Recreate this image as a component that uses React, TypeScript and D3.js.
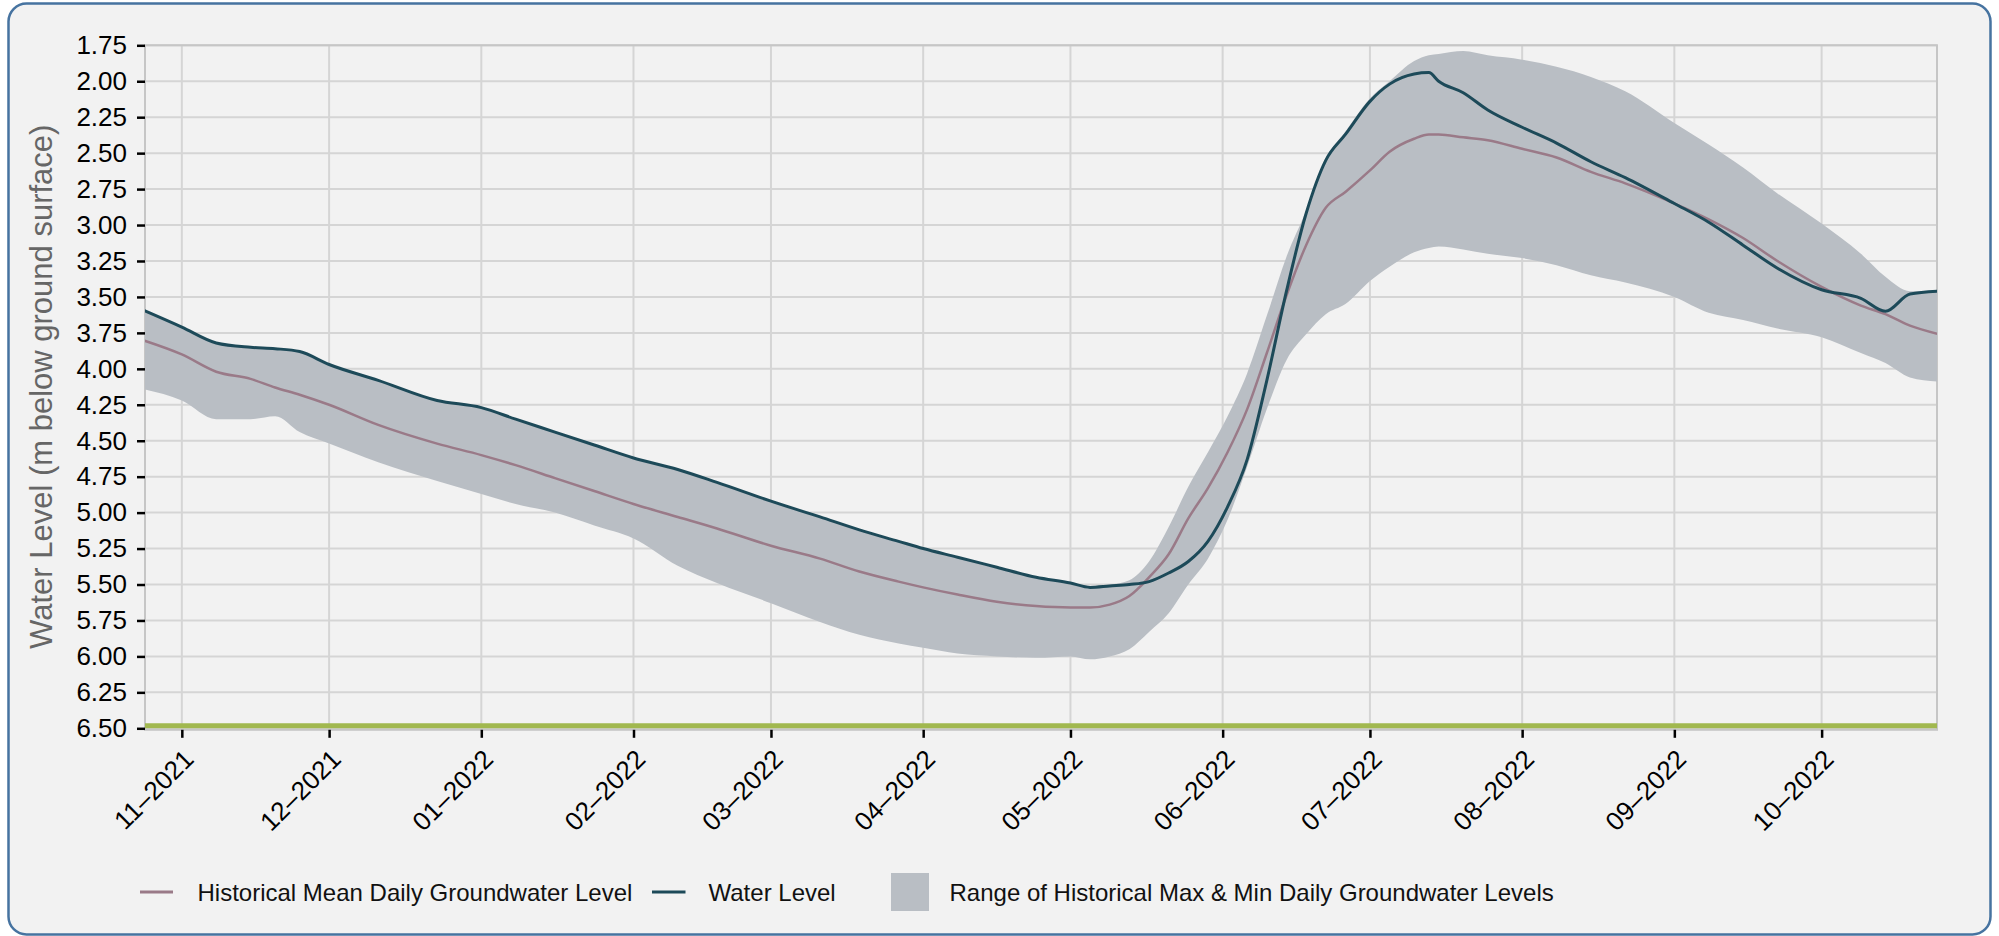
import React, { useEffect, useRef } from 'react';
import * as d3 from 'd3';

// values (m below ground surface)
const dates = [
  '2021-10-24', '2021-11-01', '2021-11-08', '2021-11-15', '2021-11-20', '2021-11-25',
  '2021-12-01', '2021-12-11', '2021-12-23', '2022-01-01', '2022-01-08', '2022-01-16',
  '2022-01-24', '2022-02-01', '2022-02-10', '2022-02-18', '2022-03-01', '2022-03-11',
  '2022-03-19', '2022-03-27', '2022-04-01', '2022-04-08', '2022-04-16', '2022-04-24',
  '2022-05-01', '2022-05-05', '2022-05-09', '2022-05-13', '2022-05-17', '2022-05-21',
  '2022-05-25', '2022-05-29', '2022-06-02', '2022-06-06', '2022-06-10', '2022-06-14',
  '2022-06-18', '2022-06-22', '2022-06-26', '2022-07-01', '2022-07-05', '2022-07-10',
  '2022-07-13', '2022-07-15', '2022-07-20', '2022-07-25', '2022-08-01', '2022-08-08',
  '2022-08-15', '2022-08-22', '2022-09-01', '2022-09-08', '2022-09-15', '2022-09-22',
  '2022-10-01', '2022-10-09', '2022-10-14', '2022-10-19', '2022-10-25',
];

const waterLevel = [
  3.59, 3.71, 3.82, 3.85, 3.86, 3.88,
  3.97, 4.08, 4.22, 4.27, 4.35, 4.44,
  4.53, 4.62, 4.70, 4.79, 4.92, 5.03,
  5.12, 5.20, 5.25, 5.31, 5.38, 5.45,
  5.49, 5.52, 5.51, 5.50, 5.48, 5.42,
  5.34, 5.20, 4.96, 4.63, 4.08, 3.46,
  2.92, 2.55, 2.37, 2.14, 2.02, 1.95,
  1.94, 2.00, 2.08, 2.20, 2.32, 2.43,
  2.56, 2.67, 2.85, 2.98, 3.14, 3.30,
  3.45, 3.51, 3.60, 3.48, 3.46,
];

const histMean = [
  3.80, 3.90, 4.02, 4.07, 4.13, 4.18,
  4.25, 4.39, 4.52, 4.60, 4.67, 4.76,
  4.85, 4.94, 5.03, 5.11, 5.23, 5.32,
  5.41, 5.48, 5.52, 5.57, 5.62, 5.65,
  5.66, 5.66, 5.64, 5.58, 5.45, 5.29,
  5.04, 4.83, 4.58, 4.28, 3.89, 3.49,
  3.14, 2.88, 2.77, 2.62, 2.49, 2.40,
  2.37, 2.37, 2.39, 2.41, 2.47, 2.53,
  2.63, 2.71, 2.85, 2.96, 3.09, 3.25,
  3.43, 3.56, 3.62, 3.70, 3.76,
];

// shallowest historical level (top of the band)
const rangeTop = [
  3.59, 3.71, 3.82, 3.85, 3.86, 3.88,
  3.97, 4.08, 4.22, 4.27, 4.35, 4.44,
  4.53, 4.62, 4.70, 4.79, 4.92, 5.03,
  5.12, 5.20, 5.25, 5.31, 5.38, 5.45,
  5.49, 5.51, 5.50, 5.47, 5.34, 5.10,
  4.82, 4.58, 4.33, 4.03, 3.63, 3.22,
  2.90, 2.54, 2.35, 2.12, 2.00, 1.86,
  1.82, 1.81, 1.79, 1.82, 1.85, 1.90,
  1.97, 2.07, 2.29, 2.44, 2.60, 2.78,
  2.99, 3.20, 3.36, 3.46, 3.45,
];

// deepest historical level (bottom of the band)
const rangeBottom = [
  4.14, 4.22, 4.35, 4.35, 4.33, 4.44,
  4.52, 4.65, 4.78, 4.87, 4.94, 5.00,
  5.09, 5.18, 5.37, 5.49, 5.63, 5.76,
  5.85, 5.91, 5.94, 5.98, 6.00, 6.01,
  6.00, 6.02, 6.00, 5.95, 5.83, 5.70,
  5.50, 5.32, 5.05, 4.68, 4.28, 3.94,
  3.76, 3.62, 3.55, 3.39, 3.29, 3.19,
  3.16, 3.15, 3.17, 3.20, 3.23, 3.28,
  3.35, 3.40, 3.50, 3.61, 3.66, 3.72,
  3.78, 3.89, 3.96, 4.06, 4.09,
];

const yTicks = [1.75, 2.0, 2.25, 2.5, 2.75, 3.0, 3.25, 3.5, 3.75, 4.0, 4.25, 4.5, 4.75, 5.0, 5.25, 5.5, 5.75, 6.0, 6.25, 6.5];
const xTicks = [
  '2021-11-01', '2021-12-01', '2022-01-01', '2022-02-01', '2022-03-01', '2022-04-01',
  '2022-05-01', '2022-06-01', '2022-07-01', '2022-08-01', '2022-09-01', '2022-10-01',
];

const W = 1999;
const H = 936;
const plot = { left: 145, right: 1937, top: 45.3, bottom: 728.3 };
const FONT = '"Liberation Sans", Arial, Helvetica, sans-serif';

const App = () => {
  const svgRef = useRef<SVGSVGElement>(null);

  useEffect(() => {
    const svg = d3.select(svgRef.current);
    svg.selectAll('*').remove();
    const parse = d3.timeParse('%Y-%m-%d');

    const x = d3
      .scaleTime()
      .domain([new Date(2021, 9, 24, 12), new Date(2022, 9, 24, 12)])
      .range([plot.left, plot.right]);
    const y = d3.scaleLinear().domain([1.75, 6.5]).range([plot.top, plot.bottom]);

    const rows = dates.map((d, i) => ({
      date: parse(d) as Date,
      wl: waterLevel[i],
      mean: histMean[i],
      top: rangeTop[i],
      bottom: rangeBottom[i],
    }));

    // card
    svg
      .append('rect')
      .attr('x', 8.5)
      .attr('y', 3.5)
      .attr('width', 1982)
      .attr('height', 931)
      .attr('rx', 18)
      .attr('fill', '#f2f2f2')
      .attr('stroke', '#4673a0')
      .attr('stroke-width', 2.5);

    svg
      .append('defs')
      .append('clipPath')
      .attr('id', 'plot-clip')
      .append('rect')
      .attr('x', plot.left)
      .attr('y', plot.top)
      .attr('width', plot.right - plot.left)
      .attr('height', plot.bottom - plot.top);

    // grid
    const grid = svg.append('g');
    grid
      .selectAll('line.hgrid')
      .data(yTicks)
      .join('line')
      .attr('x1', plot.left)
      .attr('x2', plot.right)
      .attr('y1', (d) => y(d))
      .attr('y2', (d) => y(d))
      .attr('stroke', '#d5d5d5')
      .attr('stroke-width', 2);
    grid
      .selectAll('line.vgrid')
      .data(xTicks)
      .join('line')
      .attr('x1', (d) => x(parse(d) as Date))
      .attr('x2', (d) => x(parse(d) as Date))
      .attr('y1', plot.top)
      .attr('y2', plot.bottom)
      .attr('stroke', '#d5d5d5')
      .attr('stroke-width', 2);

    // plot frame
    svg
      .append('rect')
      .attr('x', plot.left)
      .attr('y', plot.top)
      .attr('width', plot.right - plot.left)
      .attr('height', plot.bottom - plot.top + 1.5)
      .attr('fill', 'none')
      .attr('stroke', '#c6c6c6')
      .attr('stroke-width', 2);

    const data = svg.append('g').attr('clip-path', 'url(#plot-clip)');

    const band = d3
      .area<(typeof rows)[number]>()
      .curve(d3.curveMonotoneX)
      .x((d) => x(d.date))
      .y0((d) => y(d.bottom))
      .y1((d) => y(d.top));
    data.append('path').datum(rows).attr('d', band).attr('fill', '#b9bec4');

    const meanLine = d3
      .line<(typeof rows)[number]>()
      .curve(d3.curveMonotoneX)
      .x((d) => x(d.date))
      .y((d) => y(d.mean));
    data
      .append('path')
      .datum(rows)
      .attr('d', meanLine)
      .attr('fill', 'none')
      .attr('stroke', '#9a7a88')
      .attr('stroke-width', 2.5);

    const wlLine = d3
      .line<(typeof rows)[number]>()
      .curve(d3.curveMonotoneX)
      .x((d) => x(d.date))
      .y((d) => y(d.wl));
    data
      .append('path')
      .datum(rows)
      .attr('d', wlLine)
      .attr('fill', 'none')
      .attr('stroke', '#1d4a59')
      .attr('stroke-width', 3);

    // ground line at the bottom
    svg
      .append('line')
      .attr('x1', plot.left)
      .attr('x2', plot.right)
      .attr('y1', y(6.5) - 2.5)
      .attr('y2', y(6.5) - 2.5)
      .attr('stroke', '#a1b84f')
      .attr('stroke-width', 5);

    // y axis
    const yAxis = d3
      .axisLeft(y)
      .tickValues(yTicks)
      .tickFormat(d3.format('.2f') as any)
      .tickSize(8)
      .tickPadding(10);
    const gy = svg.append('g').attr('transform', `translate(${plot.left},0)`).call(yAxis);
    gy.select('.domain').remove();
    gy.selectAll('.tick line').attr('stroke', '#000').attr('stroke-width', 2.5);
    gy.selectAll('.tick text')
      .attr('fill', '#000')
      .attr('font-family', FONT)
      .attr('font-size', 26);

    // x axis
    const xAxis = d3
      .axisBottom(x)
      .tickValues(xTicks.map((d) => parse(d) as Date))
      .tickFormat(d3.timeFormat('%m–%Y') as any)
      .tickSize(8);
    const gx = svg.append('g').attr('transform', `translate(0,${plot.bottom + 1.5})`).call(xAxis);
    gx.select('.domain').remove();
    gx.selectAll('.tick line').attr('stroke', '#000').attr('stroke-width', 2.5);
    gx.selectAll('.tick text')
      .attr('x', 0)
      .attr('y', 0)
      .attr('dy', 0)
      .attr('transform', 'translate(13,31) rotate(-45)')
      .attr('text-anchor', 'end')
      .attr('fill', '#000')
      .attr('font-family', FONT)
      .attr('font-size', 26);

    // y title
    svg
      .append('text')
      .attr('transform', `translate(52,${(plot.top + plot.bottom) / 2}) rotate(-90)`)
      .attr('text-anchor', 'middle')
      .attr('fill', '#666')
      .attr('font-family', FONT)
      .attr('font-size', 31)
      .text('Water Level (m below ground surface)');

    // legend
    const legend = svg.append('g').attr('font-family', FONT).attr('font-size', 24).attr('fill', '#111');
    const ly = 892;
    legend.append('line').attr('x1', 140).attr('x2', 173).attr('y1', ly).attr('y2', ly)
      .attr('stroke', '#9a7a88').attr('stroke-width', 3);
    legend.append('text').attr('x', 197.5).attr('y', ly + 9).text('Historical Mean Daily Groundwater Level');
    legend.append('line').attr('x1', 652).attr('x2', 685.5).attr('y1', ly).attr('y2', ly)
      .attr('stroke', '#1d4a59').attr('stroke-width', 3);
    legend.append('text').attr('x', 708.5).attr('y', ly + 9).text('Water Level');
    legend.append('rect').attr('x', 891).attr('y', 873).attr('width', 38).attr('height', 38).attr('fill', '#b9bec4');
    legend.append('text').attr('x', 949.5).attr('y', ly + 9).text('Range of Historical Max & Min Daily Groundwater Levels');
  }, []);

  return (
    <svg
      ref={svgRef}
      width={W}
      height={H}
      style={{ position: 'absolute', left: 0, top: 0, background: '#fff' }}
    />
  );
};

export default App;
